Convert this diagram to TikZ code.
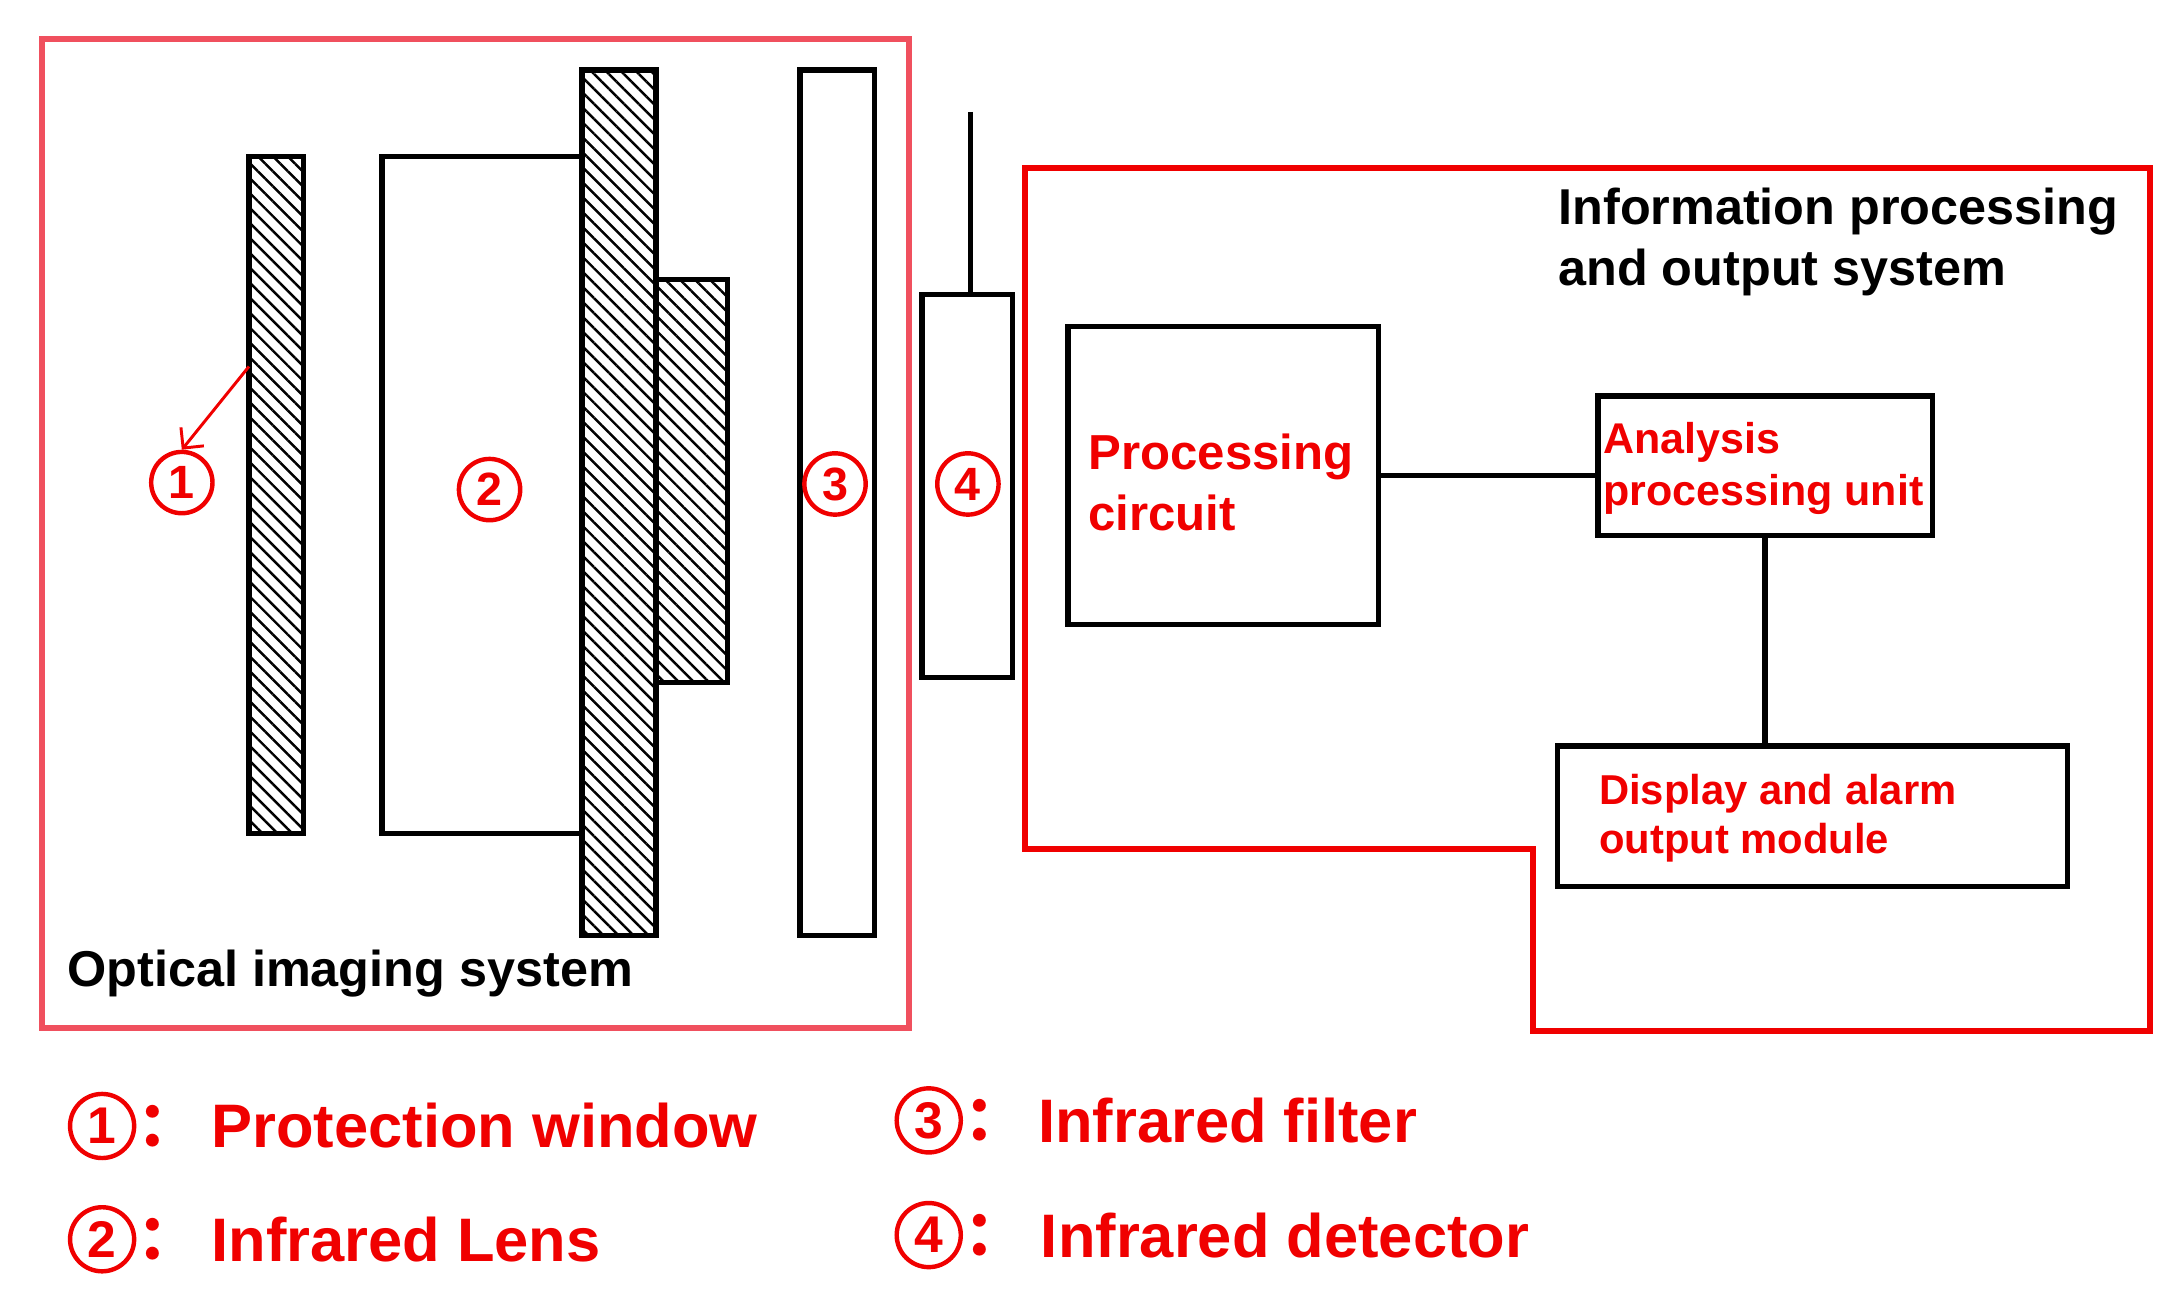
\documentclass[tikz,border=0pt]{standalone}
\usepackage{fontspec}
\setmainfont{Liberation Sans}
\newfontfamily\cjk{Noto Sans CJK SC}
\usetikzlibrary{patterns.meta,arrows.meta}
\definecolor{pinkred}{HTML}{F0505E}
\definecolor{lred}{HTML}{F00000}
\begin{document}
\begin{tikzpicture}[x=0.02cm,y=-0.02cm,
  blk/.style={draw=black,line width=2.2pt},
  hatch/.style={draw=black,line width=2.2pt,pattern={Lines[angle=135,distance=4.3pt,line width=1pt]}},
  circ/.style={circle,draw=lred,line width=1.8pt,text=lred,inner sep=0pt,minimum size=44*0.567pt,font=\bfseries\fontsize{19}{19}\selectfont},
  rlab/.style={text=lred,font=\bfseries\fontsize{17}{20}\selectfont,align=left,anchor=west},
  leg/.style={text=lred,font=\bfseries\fontsize{25}{27}\selectfont,anchor=west},
  circl/.style={circ,minimum size=46*0.567pt,font=\bfseries\fontsize{21}{21}\selectfont}]
\useasboundingbox (0,0) rectangle (1560,921);
% left box
\draw[pinkred,line width=2.4pt] (30,28) rectangle (650,735);
\node[anchor=west,font=\bfseries\fontsize{20.5}{22}\selectfont] (ois) at (42,696) {Optical imaging system};
% optics
\draw[hatch] (178,112) rectangle (217,596);
\draw[blk] (416,112) -- (273,112) -- (273,596) -- (416,596);
\draw[hatch] (469,200) rectangle (520,488);
\draw[hatch] (416,50) rectangle (469,669);
\draw[blk] (572,50) rectangle (625,669);
\node[blk,draw,minimum width=65*0.567pt,minimum height=275*0.567pt,inner sep=0pt] (det) at (691.5,347.5) {};
\coordinate (wire) at (694,80);
\draw[line width=2.2pt] (wire) -- (wire|-det.north);
% circled labels
\node[circ] (c1) at (130,345) {1};
\node[circ] (c2) at (350,350) {2};
\node[circ] (c3) at (597,346) {3};
\node[circ] (c4) at (692,346) {4};
\coordinate (pw) at (178,262);
\draw[lred,line width=1.2pt,-{Straight Barb[length=6pt]}] (pw) -- (c1.north);
% right system
\draw[lred,line width=2.4pt] (733,120) -- (1537,120) -- (1537,737) -- (1096,737) -- (1096,607) -- (733,607) -- cycle;
\node[anchor=north west,align=left,font=\bfseries\fontsize{20.5}{25}\selectfont] (ips) at (1108,128) {Information processing\\and output system};
\node[blk,draw,minimum width=223*0.567pt,minimum height=214*0.567pt,inner sep=0pt] (pc) at (874.5,340) {};
\node[rlab,font=\bfseries\fontsize{20}{25}\selectfont] at (772,345) {Processing\\circuit};
\node[blk,draw,minimum width=240*0.567pt,minimum height=100*0.567pt,inner sep=0pt] (apu) at (1262,333) {};
\node[rlab,font=\bfseries\fontsize{17.5}{21}\selectfont] at (1140,335) {Analysis\\processing unit};
\node[blk,draw,minimum width=366*0.567pt,minimum height=101*0.567pt,inner sep=0pt] (dam) at (1296,583.5) {};
\node[rlab] at (1137,585) {Display and alarm\\output module};
\draw[line width=2.2pt] (pc.east|-1000,340) -- (apu.west|-1000,340);
\draw[line width=2.2pt] (apu.south) -- (apu.south|-dam.north);
% legend
\node[circl] (l1) at (73,805) {1};
\node[leg,font=\cjk\bfseries\fontsize{25}{27}\selectfont] at (92,805) {：};
\node[leg] at (145,805) {Protection window};
\node[circl] (l2) at (73,886) {2};
\node[leg,font=\cjk\bfseries\fontsize{25}{27}\selectfont] at (92,886) {：};
\node[leg] at (145,886) {Infrared Lens};
\node[circl] (l3) at (664,801) {3};
\node[leg,font=\cjk\bfseries\fontsize{25}{27}\selectfont] at (683,801) {：};
\node[leg] at (736,801) {Infrared filter};
\node[circl] (l4) at (664,883) {4};
\node[leg,font=\cjk\bfseries\fontsize{25}{27}\selectfont] at (683,883) {：};
\node[leg] at (738,883) {Infrared detector};
\end{tikzpicture}
\end{document}
